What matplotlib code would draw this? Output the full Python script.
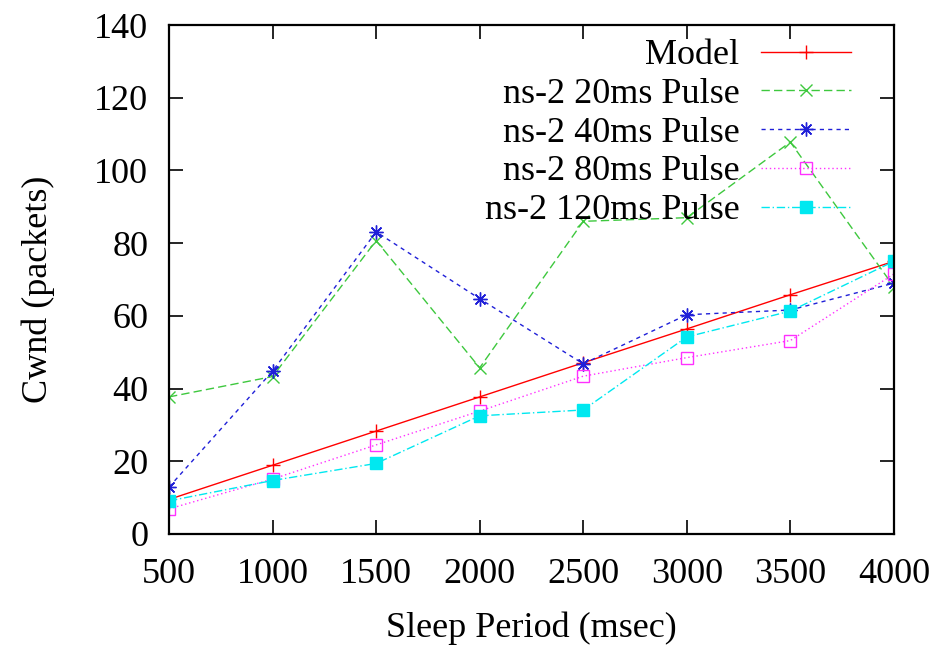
import numpy as np
import matplotlib
matplotlib.use('Agg')
import matplotlib.pyplot as plt

plt.rcParams['font.family'] = 'Liberation Serif'
plt.rcParams['font.size'] = 26

# Data
sleep_period = [500, 1000, 1500, 2000, 2500, 3000, 3500, 4000]
model = [9.5, 18.9, 28.3, 37.7, 47.1, 56.4, 65.8, 75.0]
pulse_20ms = [37.7, 43.3, 80.7, 45.7, 86.0, 87.0, 107.8, 68.0]
pulse_40ms = [12.9, 44.8, 83.1, 64.7, 46.8, 60.3, 61.6, 69.0]
pulse_80ms = [6.9, 15.1, 24.5, 33.8, 43.4, 48.5, 53.2, 71.5]
pulse_120ms = [9.1, 14.7, 19.4, 32.5, 34.1, 54.2, 61.3, 75.0]

fig = plt.figure(figsize=(9.36, 6.48), dpi=100)
ax = fig.add_axes([0.1806, 0.176, 0.7744, 0.7854])

#Each series gets its own gnuplot-like style
ax.plot(sleep_period, model, color='red', lw=1, ls='-', marker='+', ms=10, mew=1, label='Model')
ax.plot(sleep_period, pulse_20ms, color='#3ec83e', lw=1, ls=(0, (6, 3)), marker='x', ms=9, mew=1, label='ns-2 20ms Pulse')
ax.plot(sleep_period, pulse_40ms, color='#2020d8', lw=1, ls=(0, (3, 3)), marker=(8, 2, 0), ms=10, mew=1, label='ns-2 40ms Pulse')
ax.plot(sleep_period, pulse_80ms, color='#ff30ff', lw=1, ls=(0, (1, 2)), marker='s', ms=8, mew=1,
        markerfacecolor='none', label='ns-2 80ms Pulse')
ax.plot(sleep_period, pulse_120ms, color='#00e8f0', lw=1, ls=(0, (6, 2, 1, 2)), marker='s', ms=8, mew=1,
        label='ns-2 120ms Pulse')

ax.set_xlim(500, 4000)
ax.set_ylim(0, 140)
ax.set_xticks(np.arange(500, 4001, 500))
ax.set_yticks(np.arange(0, 141, 20))
ax.tick_params(direction='in', length=10, width=1.2, top=True, right=True, labelsize=26)
ax.tick_params(axis='x', pad=17)
ax.tick_params(axis='y', pad=15)
for s in ax.spines.values():
    s.set_linewidth(1.6)

ax.set_xlabel('Sleep Period (msec)', fontsize=26)
ax.set_ylabel('Cwnd (packets)', fontsize=26)
ax.xaxis.set_label_coords(0.5, -0.153)
ax.yaxis.set_label_coords(-0.158, 0.48)

leg = ax.legend(loc='upper right', bbox_to_anchor=(0.976, 1.022), frameon=False, markerfirst=False,
                numpoints=1, handlelength=2.5, handletextpad=0.6, labelspacing=0.15, borderpad=0.2,
                fontsize=26)

fig.savefig('out.png', dpi=100)
